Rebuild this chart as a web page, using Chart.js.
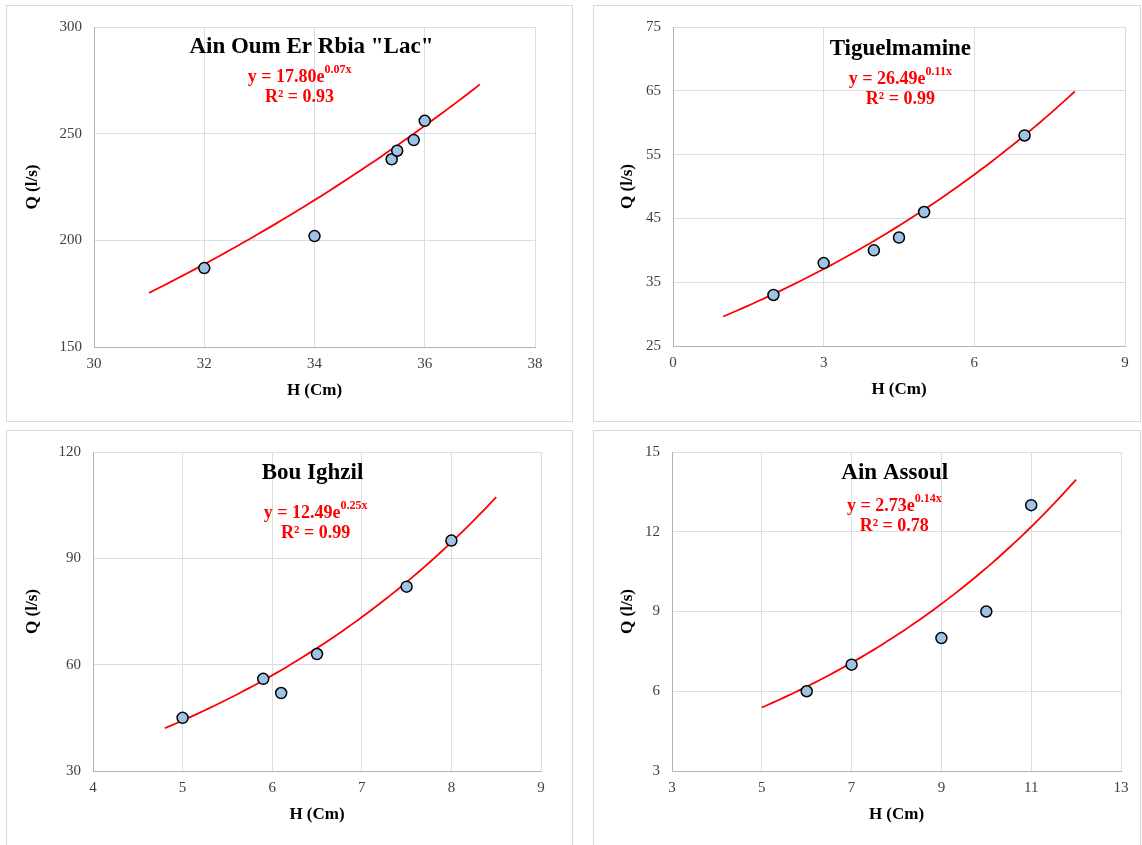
<!DOCTYPE html>
<html>
<head>
<meta charset="utf-8">
<script src="https://cdn.jsdelivr.net/npm/chart.js@4"></script>
<style>
  body { margin: 0; background: #fff; }
  .panel { position: absolute; border: 1px solid #d9d9d9; }
  .panel canvas { display: block; }
</style>
</head>
<body>
<div class="panel" style="left:6px;top:5px;"><canvas id="c1" width="565" height="415"></canvas></div>
<div class="panel" style="left:593px;top:5px;"><canvas id="c2" width="546" height="415"></canvas></div>
<div class="panel" style="left:6px;top:430px;"><canvas id="c3" width="565" height="414"></canvas></div>
<div class="panel" style="left:593px;top:430px;"><canvas id="c4" width="546" height="414"></canvas></div>
<script>
// measured points, H (Cm) vs Q (l/s)
const lacH = [32, 34, 35.4, 35.5, 35.8, 36];
const lacQ = [187, 202, 238, 242, 247, 256];
const tigH = [2, 3, 4, 4.5, 5, 7];
const tigQ = [33, 38, 40, 42, 46, 58];
const bouH = [5, 5.9, 6.1, 6.5, 7.5, 8];
const bouQ = [45, 56, 52, 63, 82, 95];
const assH = [6, 7, 9, 10, 11];
const assQ = [6, 7, 8, 9, 13];

// exponential trend lines: [a, k, xStart, xEnd]
const lacFit = [17.80, 0.0738, 31, 37];
const tigFit = [26.49, 0.112, 1, 8];
const bouFit = [12.49, 0.253, 4.8, 8.5];
const assFit = [2.73, 0.136, 5, 12];

const titles = ['Ain Oum Er Rbia "Lac"', 'Tiguelmamine', 'Bou Ighzil', 'Ain Assoul'];
const eqMain = ['y = 17.80e', 'y = 26.49e', 'y = 12.49e', 'y = 2.73e'];
const eqExp = ['0.07x', '0.11x', '0.25x', '0.14x'];
const eqR2 = ['R² = 0.93', 'R² = 0.99', 'R² = 0.99', 'R² = 0.78'];

// axis ranges: [min, max, step]
const lacX = [30, 38, 2], lacY = [150, 300, 50];
const tigX = [0, 9, 3], tigY = [25, 75, 10];
const bouX = [4, 9, 1], bouY = [30, 120, 30];
const assX = [3, 13, 2], assY = [3, 15, 3];

const FONT = '"Liberation Serif", "Times New Roman", serif';

const annotate = {
  id: 'annotate',
  afterDatasetsDraw(chart, args, o) {
    const { ctx, chartArea: a } = chart;
    const cx = a.left + o.cx * a.width;
    ctx.save();
    ctx.textBaseline = 'middle';
    ctx.textAlign = 'center';
    ctx.fillStyle = '#000';
    ctx.font = 'bold 23px ' + FONT;
    ctx.fillText(o.title, a.left + o.tx * a.width, a.top + o.ty);

    ctx.fillStyle = '#ff0000';
    ctx.font = 'bold 18px ' + FONT;
    const w1 = ctx.measureText(o.main).width;
    ctx.font = 'bold 12px ' + FONT;
    const w2 = ctx.measureText(o.exp).width;
    const x0 = cx - (w1 + w2) / 2;
    ctx.textAlign = 'left';
    ctx.font = 'bold 18px ' + FONT;
    ctx.fillText(o.main, x0, a.top + o.ey);
    ctx.font = 'bold 12px ' + FONT;
    ctx.fillText(o.exp, x0 + w1, a.top + o.ey - 7);
    ctx.textAlign = 'center';
    ctx.font = 'bold 18px ' + FONT;
    ctx.fillText(o.r2, cx, a.top + o.ey + 20);
    ctx.restore();
  }
};

function trend(fit) {
  const pts = [];
  const n = 60;
  for (let i = 0; i <= n; i++) {
    const x = fit[2] + (fit[3] - fit[2]) * i / n;
    pts.push({ x: x, y: fit[0] * Math.exp(fit[1] * x) });
  }
  return pts;
}

function makePanel(id, idx, hs, qs, fit, xr, yr, lay, pos) {
  const pts = hs.map((h, i) => ({ x: h, y: qs[i] }));
  new Chart(document.getElementById(id), {
    type: 'scatter',
    data: {
      datasets: [
        {
          data: pts,
          pointRadius: 5.5,
          pointBackgroundColor: '#9dc3e6',
          pointBorderColor: '#000',
          pointBorderWidth: 1.5,
          order: 1
        },
        {
          type: 'line',
          data: trend(fit),
          borderColor: '#ff0000',
          borderWidth: 1.8,
          pointRadius: 0,
          fill: false,
          order: 2
        }
      ]
    },
    options: {
      responsive: false,
      animation: false,
      layout: { padding: { left: lay.padL, top: lay.top, right: lay.right, bottom: lay.padB } },
      plugins: {
        legend: { display: false },
        tooltip: { enabled: false },
        annotate: {
          title: titles[idx], main: eqMain[idx], exp: eqExp[idx], r2: eqR2[idx],
          tx: pos.tx, ty: pos.ty, cx: pos.cx, ey: pos.ey
        }
      },
      scales: {
        x: {
          type: 'linear',
          min: xr[0], max: xr[1],
          ticks: { stepSize: xr[2], padding: 8, color: '#404040', font: { family: FONT, size: 15 } },
          grid: { color: '#d9dee6', drawTicks: false },
          border: { color: '#a9b4c4' },
          title: { display: true, text: 'H (Cm)', color: '#000', padding: { top: 0, bottom: 6 },
                   font: { family: FONT, size: 17, weight: 'bold' } },
          afterFit: s => { s.height = lay.xH; }
        },
        y: {
          min: yr[0], max: yr[1],
          ticks: { stepSize: yr[2], padding: 12, color: '#404040', font: { family: FONT, size: 15 } },
          grid: { color: '#d9dee6', drawTicks: false },
          border: { color: '#a9b4c4' },
          title: { display: true, text: 'Q (l/s)', color: '#000', padding: { top: 2, bottom: 0 },
                   font: { family: FONT, size: 17, weight: 'bold' } },
          afterFit: s => { s.width = lay.yW; }
        }
      }
    },
    plugins: [annotate]
  });
}

makePanel('c1', 0, lacH, lacQ, lacFit, lacX, lacY,
  { padL: 13, yW: 74, top: 21, right: 37, padB: 14, xH: 60 },
  { tx: 0.493, ty: 20, cx: 0.466, ey: 50 });
makePanel('c2', 1, tigH, tigQ, tigFit, tigX, tigY,
  { padL: 21, yW: 58, top: 20, right: 15, padB: 15, xH: 60 },
  { tx: 0.503, ty: 22, cx: 0.503, ey: 52 });
makePanel('c3', 2, bouH, bouQ, bouFit, bouX, bouY,
  { padL: 13, yW: 73, top: 21, right: 31, padB: 14, xH: 60 },
  { tx: 0.49, ty: 21, cx: 0.497, ey: 61 });
makePanel('c4', 3, assH, assQ, assFit, assX, assY,
  { padL: 21, yW: 57, top: 20, right: 19, padB: 14, xH: 60 },
  { tx: 0.496, ty: 21, cx: 0.495, ey: 54 });
</script>
</body>
</html>
